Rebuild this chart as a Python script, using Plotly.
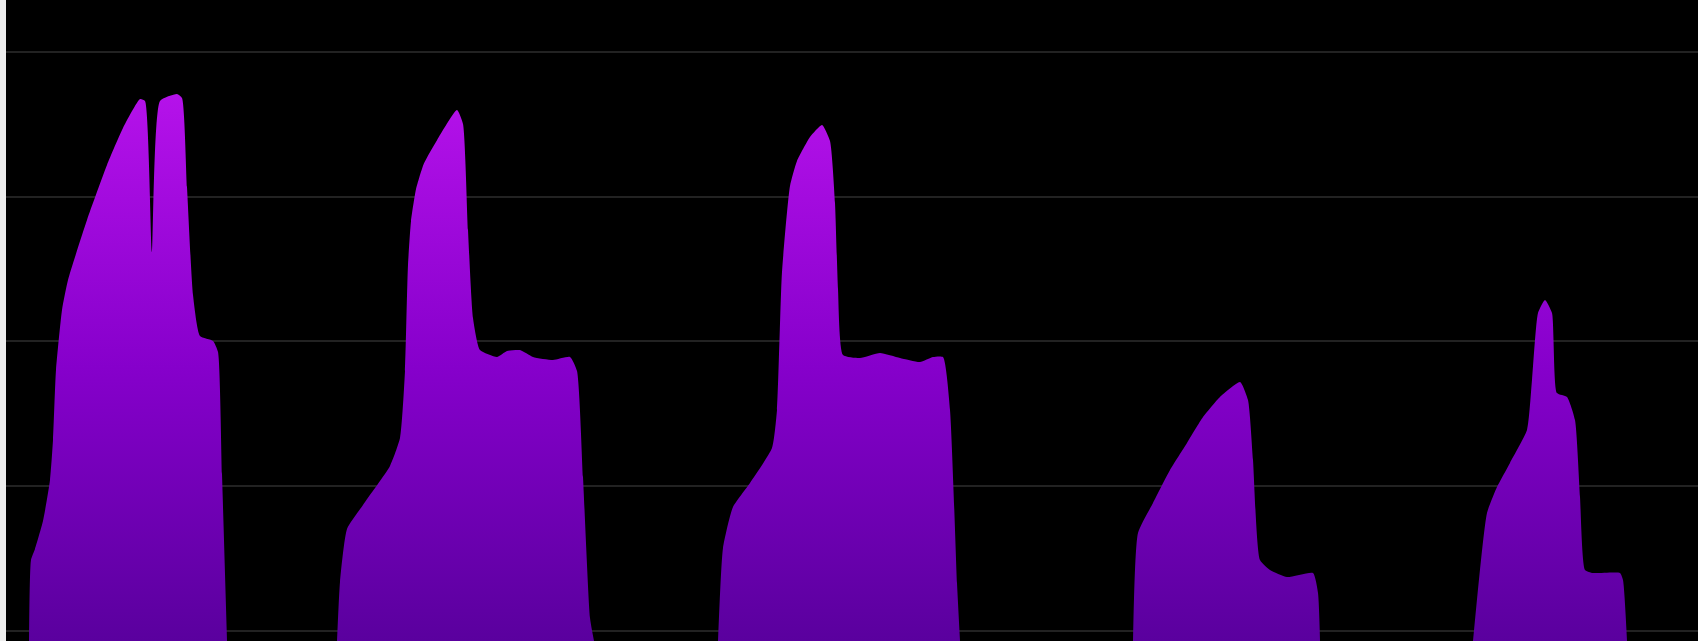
import plotly.graph_objects as go

# Five effort blocks (x = elapsed time position, y = output value; grid every 100 units)
peak1_x = [29, 31, 35, 43, 50, 53, 56, 62, 68, 87, 107, 123, 140, 145, 152, 160, 177, 182, 187, 193, 200, 213, 218, 222, 227]
peak1_y = [0, 56.0, 63.6, 82.9, 111.2, 138.9, 187.2, 228.7, 249.4, 290.8, 328.8, 354.4, 374.4, 373.1, 268.7, 373.1, 377.9, 375.1, 313.6, 239.0, 210.7, 207.3, 199.7, 115.4, 0]

peak2_x = [337, 340, 347, 363, 390, 400, 405, 408, 411, 416, 424, 437, 457, 463, 468, 473, 480, 497, 507, 520, 533, 553, 570, 577, 583, 590, 594]
peak2_y = [0, 40.8, 77.4, 94.0, 120.9, 140.2, 186.5, 259.8, 290.0, 312.0, 330.0, 346.0, 366.8, 357.2, 283.9, 223.1, 201.0, 196.2, 200.3, 201.0, 196.2, 194.1, 196.2, 186.5, 113.3, 15.9, 0]

peak3_x = [718, 723, 733, 750, 772, 777, 782, 790, 797, 810, 822, 830, 835, 838, 843, 860, 880, 900, 920, 933, 943, 950, 957, 960]
peak3_y = [0, 64.2, 92.6, 109.2, 133.3, 159.6, 254.9, 314.3, 331.6, 348.2, 356.5, 345.4, 302.6, 243.2, 197.6, 195.5, 199.0, 195.5, 192.7, 196.2, 196.2, 159.6, 40.1, 0]

peak4_x = [1133, 1138, 1153, 1170, 1187, 1203, 1220, 1240, 1248, 1253, 1260, 1270, 1287, 1313, 1318, 1320]
peak4_y = [0, 74.6, 95.3, 118.1, 136.8, 154.7, 168.6, 178.9, 166.5, 125.0, 56.0, 49.1, 44.2, 47.0, 33.2, 0]

peak5_x = [1473, 1487, 1497, 1510, 1527, 1532, 1538, 1545, 1552, 1557, 1567, 1575, 1580, 1585, 1593, 1620, 1623, 1627]
peak5_y = [0, 88.4, 106.4, 123.0, 145.8, 180.3, 226.6, 235.6, 226.6, 171.3, 168.6, 152.7, 99.5, 49.1, 47.0, 47.0, 42.1, 0]

peaks = [(peak1_x, peak1_y), (peak2_x, peak2_y), (peak3_x, peak3_y),
         (peak4_x, peak4_y), (peak5_x, peak5_y)]

fig = go.Figure()
for px, py in peaks:
    fig.add_trace(go.Scatter(
        x=px, y=py,
        mode="lines",
        line=dict(width=0, color="#8a00cc", shape="spline", smoothing=0.5),
        fill="tozeroy",
        fillgradient=dict(
            type="vertical",
            start=0, stop=378,
            colorscale=[[0, "#5a009e"], [0.5, "#8600cb"], [1, "#b512ea"]],
        ),
        hoverinfo="skip",
        showlegend=False,
    ))

fig.update_layout(
    width=1698, height=641,
    margin=dict(l=6, r=0, t=0, b=0),
    paper_bgcolor="#eeeeee",
    plot_bgcolor="#000000",
    showlegend=False,
)
fig.update_xaxes(range=[6, 1698], showgrid=False, zeroline=False,
                 showticklabels=False, showline=False, ticks="")
fig.update_yaxes(range=[0, 442.8], tick0=6.9, dtick=100, showgrid=True,
                 gridcolor="#222222", gridwidth=2, zeroline=False,
                 showticklabels=False, showline=False, ticks="")

fig.write_html("out.html",
               config={"displayModeBar": False},
               post_script="document.body.style.margin='0';document.body.style.overflow='hidden';")
